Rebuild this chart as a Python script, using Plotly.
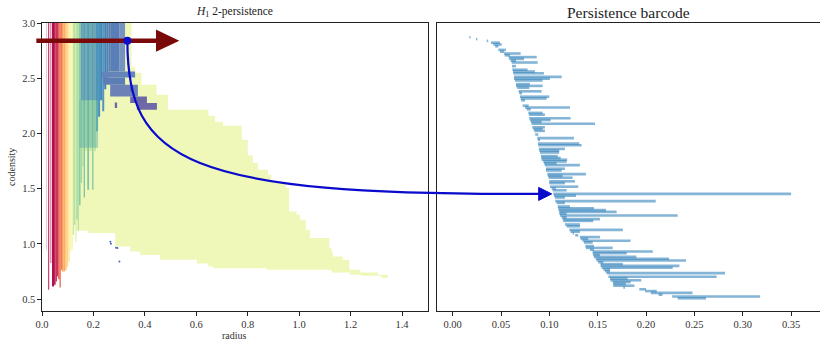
import plotly.graph_objects as go

# ---------------- Left panel: H1 2-persistence ----------------
TOP = 3.0
# vertical strips (radius interval, lower codensity, colour); top is TOP
strip_x0 = [0.016, 0.024, 0.033, 0.039, 0.047, 0.053, 0.058, 0.063, 0.068, 0.073, 0.078, 0.084,
            0.090, 0.096, 0.102, 0.108, 0.114, 0.120, 0.125, 0.130, 0.134, 0.139, 0.144, 0.150,
            0.156, 0.162, 0.167, 0.176, 0.183, 0.195, 0.200, 0.210, 0.218, 0.226, 0.234, 0.242,
            0.250, 0.258]
strip_x1 = [0.019, 0.028, 0.036, 0.047, 0.053, 0.058, 0.063, 0.068, 0.073, 0.078, 0.084, 0.090,
            0.096, 0.102, 0.108, 0.114, 0.120, 0.125, 0.130, 0.134, 0.139, 0.144, 0.150, 0.156,
            0.162, 0.167, 0.176, 0.183, 0.195, 0.200, 0.210, 0.218, 0.226, 0.234, 0.242, 0.250,
            0.258, 0.265]
strip_bottom = [0.946, 0.584, 0.826, 0.614, 0.630, 0.660, 0.705, 0.680, 0.605, 0.765, 0.750, 0.750,
                0.760, 0.795, 0.840, 0.930, 0.950, 1.080, 1.170, 1.020, 1.220, 1.120, 1.350, 1.550,
                1.700, 1.420, 1.840, 1.490, 1.840, 1.490, 1.840, 2.020, 2.150, 2.300, 2.200, 2.400,
                2.450, 2.560]
strip_color = ['#f3b4c6', '#c51d5b', '#cc3060', '#ae0f4c', '#b8154e', '#c4214f', '#d1354e', '#de4b4b',
               '#eb6346', '#f47b4a', '#f99656', '#fcad63', '#fdc275', '#fed688', '#fee89c', '#fef4ae',
               '#f2f9ae', '#c8e89f', '#a9dba3', '#d9f09f', '#96d2a4', '#bbe3a0', '#88caa6', '#a4d8a4',
               '#c3e59f', '#7dc4a6', '#d3ed9e', '#80c5a6', '#cdea9f', '#82c6a6', '#c4e49f', '#6cb2ad',
               '#4d92bf', '#3d87bd', '#5894c0', '#4283bb', '#4e80b8', '#5581b8']

# rectangular summands drawn over the strips
block_x0 = [0.146, 0.150, 0.265, 0.300, 0.233, 0.238, 0.265, 0.343, 0.369, 0.283, 0.342]
block_x1 = [0.218, 0.218, 0.300, 0.323, 0.362, 0.323, 0.373, 0.408, 0.447, 0.292, 0.355]
block_y0 = [1.87, 2.30, 2.56, 2.56, 2.507, 2.441, 2.335, 2.275, 2.215, 2.23, 2.38]
block_y1 = [2.30, 3.00, 3.00, 3.00, 2.56, 2.507, 2.441, 2.335, 2.275, 2.28, 2.42]
block_color = ['rgba(80,170,170,0.45)', 'rgba(60,135,190,0.65)', '#5a7fb8', '#7592c0', '#6585ba',
               '#5d7db6', '#6c82b7', '#6b68a8', '#6f69a8', '#6a6aab', '#6661a7']

# big summand: staircase boundaries
upper_r = [0.348, 0.361, 0.387, 0.445, 0.49, 0.647, 0.673, 0.704, 0.777, 0.80, 0.82, 0.84, 0.879,
           0.892, 0.948, 0.961, 0.990, 1.003, 1.026, 1.042, 1.117, 1.126, 1.131, 1.169, 1.195,
           1.236, 1.307, 1.344]
upper_c = [3.0, 2.604, 2.55, 2.441, 2.35, 2.215, 2.16, 2.106, 2.07, 1.943, 1.80, 1.732, 1.671, 1.626,
           1.565, 1.505, 1.293, 1.264, 1.218, 1.128, 1.053, 0.962, 0.931, 0.886, 0.856, 0.765,
           0.741, 0.72, 0.69]
lower_r = [1.344, 1.32, 1.243, 1.197, 1.126, 0.874, 0.667, 0.647, 0.602, 0.459, 0.382, 0.343,
           0.285, 0.181, 0.13]
lower_c = [0.69, 0.711, 0.72, 0.741, 0.765, 0.78, 0.795, 0.822, 0.856, 0.90, 0.931, 0.976, 1.098,
           1.119]

speck_r = [0.266, 0.268, 0.288, 0.293, 0.301]
speck_c = [1.02, 1.0, 0.965, 0.962, 0.84]

point_r, point_c = 0.332, 2.84
red_arrow_r0, red_arrow_r1 = -0.022, 0.525

# ---------------- Right panel: barcode ----------------
bar_rank = [0, 1, 2, 3, 4, 5, 7, 8, 9, 10, 11, 12, 13, 14, 16, 18, 19, 20, 22, 23, 24, 26, 27, 28,
            30, 31, 33, 34, 35, 38, 39, 40, 42, 43, 45, 46, 47, 48, 50, 51, 52, 54, 56, 57, 59, 60,
            62, 63, 64, 66, 67, 68, 69, 70, 71, 73, 74, 76, 77, 78, 80, 81, 83, 84, 85, 87, 88, 89,
            91, 92, 94, 95, 96, 97, 98, 99, 100, 101, 102, 104, 105, 107, 108, 109, 110, 111, 112,
            113, 114, 116, 117, 118, 119, 120, 121, 122, 123, 124, 125, 126, 127, 128, 129, 130,
            131, 133, 134, 135, 136, 137, 138, 139, 140, 141, 142, 143, 144, 145]
bar_birth = [0.0172, 0.0241, 0.0352, 0.0396, 0.042, 0.044, 0.0472, 0.049, 0.0531, 0.0538, 0.0579,
             0.0586, 0.060, 0.061, 0.0613, 0.0617, 0.0624, 0.0627, 0.0634, 0.0634, 0.0644, 0.0655,
             0.0655, 0.0668, 0.0682, 0.0689, 0.0696, 0.0703, 0.0709, 0.0724, 0.0748, 0.0765,
             0.0782, 0.0789, 0.0792, 0.0799, 0.081, 0.0817, 0.0823, 0.0834, 0.0844, 0.0854,
             0.0875, 0.0882, 0.0882, 0.0885, 0.0892, 0.0896, 0.0903, 0.0913, 0.0916, 0.092,
             0.0937, 0.0944, 0.0954, 0.0965, 0.0965, 0.0979, 0.0986, 0.0993, 0.0999, 0.0999,
             0.1006, 0.1024, 0.1034, 0.1041, 0.1048, 0.1058, 0.1061, 0.1075, 0.1086, 0.1092,
             0.1096, 0.1103, 0.1103, 0.111, 0.1127, 0.1137, 0.1144, 0.1161, 0.1179, 0.1206,
             0.122, 0.1241, 0.1268, 0.1316, 0.1323, 0.1344, 0.1358, 0.1372, 0.1378, 0.142,
             0.1448, 0.1448, 0.1454, 0.1461, 0.148, 0.1489, 0.1506, 0.153, 0.153, 0.1541, 0.1558,
             0.1575, 0.1593, 0.161, 0.1627, 0.163, 0.1655, 0.1661, 0.1661, 0.1765, 0.193, 0.199,
             0.205, 0.213, 0.227, 0.2327]
bar_death = [0.0185, 0.0255, 0.0368, 0.0489, 0.0507, 0.0472, 0.0551, 0.0531, 0.0703, 0.0593, 0.0869,
             0.0737, 0.0655, 0.0879, 0.0655, 0.0775, 0.0851, 0.0944, 0.1127, 0.1006, 0.093, 0.0799,
             0.093, 0.0792, 0.092, 0.0717, 0.0999, 0.0972, 0.0748, 0.0786, 0.1213, 0.0807, 0.093,
             0.0954, 0.122, 0.1013, 0.092, 0.1472, 0.0954, 0.093, 0.0954, 0.0885, 0.1254, 0.0903,
             0.1309, 0.1334, 0.1161, 0.1102, 0.1102, 0.1086, 0.1117, 0.1185, 0.1179, 0.1075,
             0.1316, 0.1161, 0.1127, 0.1378, 0.1137, 0.1241, 0.1265, 0.1161, 0.1299, 0.1068,
             0.1179, 0.35, 0.1275, 0.1161, 0.21, 0.1161, 0.1213, 0.1461, 0.1585, 0.1696, 0.1179,
             0.2327, 0.1179, 0.1523, 0.1454, 0.1316, 0.1316, 0.176, 0.1316, 0.1254, 0.1299,
             0.1523, 0.1402, 0.184, 0.1448, 0.1461, 0.1655, 0.1461, 0.207, 0.180, 0.1523, 0.19,
             0.2237, 0.2413, 0.1558, 0.176, 0.2345, 0.2275, 0.1627, 0.1627, 0.2816, 0.273, 0.181,
             0.195, 0.184, 0.179, 0.188, 0.1782, 0.2, 0.211, 0.248, 0.217, 0.318, 0.262]
target_birth, target_rank = 0.1024, 87

# ---------------- geometry ----------------
W, H = 820, 342
ML, MR, MT, MB = 42, 0, 23, 31
PW, PH = W - ML - MR, H - MT - MB
LDOM = [0.0, 0.4958]
RDOM = [0.5077, 1.0]
LXR = [0.0, 1.5]
LYR = [0.392, 3.0]
RXR = [-0.0162, 0.3799]
RYR = [152.06, -7.94]


def lpx(x):
    return ML + (LDOM[0] + (x - LXR[0]) / (LXR[1] - LXR[0]) * (LDOM[1] - LDOM[0])) * PW


def lpy(y):
    return MT + (LYR[1] - y) / (LYR[1] - LYR[0]) * PH


def rpx(x):
    return ML + (RDOM[0] + (x - RXR[0]) / (RXR[1] - RXR[0]) * (RDOM[1] - RDOM[0])) * PW


def rpy(r):
    return MT + (r - RYR[1]) / (RYR[0] - RYR[1]) * PH


def paper(px, py):
    return (px - ML) / PW, (H - MB - py) / PH


fig = go.Figure()


def rect_trace(x0, x1, y0, y1, color):
    return go.Scatter(x=[x0, x1, x1, x0, x0], y=[y0, y0, y1, y1, y0], mode='lines',
                      fill='toself', fillcolor=color, line=dict(width=0),
                      hoverinfo='skip', showlegend=False, xaxis='x', yaxis='y')


# big yellow summand
yx, yy = [lower_r[-1]], [TOP]
for i in range(len(upper_r)):
    yx += [upper_r[i], upper_r[i]]
    yy += [upper_c[i], upper_c[i + 1]]
for i in range(len(lower_c)):
    yx += [lower_r[i], lower_r[i + 1]]
    yy += [lower_c[i], lower_c[i]]
yx.append(lower_r[-1]); yy.append(TOP)
fig.add_trace(go.Scatter(x=yx, y=yy, mode='lines', fill='toself', fillcolor='#eff7b9',
                         line=dict(width=0), hoverinfo='skip', showlegend=False,
                         xaxis='x', yaxis='y'))

for x0, x1, b, c in zip(strip_x0, strip_x1, strip_bottom, strip_color):
    fig.add_trace(rect_trace(x0, x1, b, TOP, c))
for x0, x1, y0, y1, c in zip(block_x0, block_x1, block_y0, block_y1, block_color):
    fig.add_trace(rect_trace(x0, x1, y0, y1, c))

fig.add_trace(go.Scatter(x=speck_r, y=speck_c, mode='markers',
                         marker=dict(size=2, color='#4a66c0'), hoverinfo='skip',
                         showlegend=False, xaxis='x', yaxis='y'))

# barcode
fig.add_trace(go.Bar(y=bar_rank, x=[d - b for b, d in zip(bar_birth, bar_death)], base=bar_birth,
                     orientation='h', width=1.45,
                     marker=dict(color='rgba(31,119,180,0.55)', line=dict(width=0)),
                     hoverinfo='skip', showlegend=False, xaxis='x2', yaxis='y2'))

# ---------------- arrows ----------------
shapes = []
# dark red arrow
ay = lpy(point_c)
sx0, tipx = lpx(red_arrow_r0), lpx(red_arrow_r1)
hb = tipx - 20
p0 = paper(sx0, ay); p1 = paper(hb + 2, ay)
shapes.append(dict(type='line', xref='paper', yref='paper', x0=p0[0], y0=p0[1], x1=p1[0], y1=p1[1],
                   line=dict(color='#7a0a0a', width=4.5), layer='above'))
a = paper(hb, ay - 9.5); b_ = paper(tipx, ay); c_ = paper(hb, ay + 9.5)
shapes.append(dict(type='path', xref='paper', yref='paper',
                   path=f'M{a[0]},{a[1]} L{b_[0]},{b_[1]} L{c_[0]},{c_[1]} Z',
                   fillcolor='#7a0a0a', line=dict(color='#7a0a0a', width=2), layer='above'))

# blue connecting curve
dx, dy = lpx(point_r), lpy(point_c)
tx, ty = rpx(target_birth), rpy(target_rank)
ex = tx - 13
P0 = paper(dx, dy)
P1 = paper(dx, dy + 120)
P2 = paper(ex - 355, ty + 2)
P3 = paper(ex + 1, ty)
shapes.append(dict(type='path', xref='paper', yref='paper',
                   path=f'M{P0[0]},{P0[1]} C{P1[0]},{P1[1]} {P2[0]},{P2[1]} {P3[0]},{P3[1]}',
                   line=dict(color='#0a0acd', width=2.2), layer='above'))
h1 = paper(ex, ty - 6.5); h2 = paper(tx, ty); h3 = paper(ex, ty + 6.5)
shapes.append(dict(type='path', xref='paper', yref='paper',
                   path=f'M{h1[0]},{h1[1]} L{h2[0]},{h2[1]} L{h3[0]},{h3[1]} Z',
                   fillcolor='#0a0acd', line=dict(color='#0a0acd', width=1), layer='above'))
# blue point
c0 = paper(dx - 4, dy + 4); c1 = paper(dx + 4, dy - 4)
shapes.append(dict(type='circle', xref='paper', yref='paper', x0=c0[0], y0=c0[1], x1=c1[0], y1=c1[1],
                   fillcolor='#0a0acd', line=dict(width=0), layer='above'))

FONT = 'Liberation Serif'
axis_common = dict(showline=True, linecolor='#222', linewidth=1.2, ticks='outside', ticklen=3.5,
                   tickwidth=1, tickcolor='#222', showgrid=False, zeroline=False,
                   tickfont=dict(family=FONT, size=10.5, color='#333'))

fig.update_layout(
    width=W, height=H, margin=dict(l=ML, r=MR, t=MT, b=MB, autoexpand=False),
    paper_bgcolor='white', plot_bgcolor='white', barmode='overlay', showlegend=False,
    xaxis=dict(domain=LDOM, range=LXR, tickvals=[0, 0.2, 0.4, 0.6, 0.8, 1.0, 1.2, 1.4],
               tickformat='.1f', mirror=True, anchor='y', **axis_common),
    yaxis=dict(domain=[0, 1], range=LYR, tickvals=[0.5, 1.0, 1.5, 2.0, 2.5, 3.0],
               tickformat='.1f', mirror=True, anchor='x', **axis_common),
    xaxis2=dict(domain=RDOM, range=RXR, tickvals=[0, 0.05, 0.1, 0.15, 0.2, 0.25, 0.3, 0.35],
                tickformat='.2f', mirror=True, anchor='y2', **axis_common),
    yaxis2=dict(domain=[0, 1], range=RYR, showline=True, linecolor='#222', linewidth=1.2,
                showticklabels=False, ticks='', showgrid=False, zeroline=False, anchor='x2'),
    shapes=shapes,
    annotations=[
        dict(text='<i>H</i><sub>1</sub> 2-persistence', x=(LDOM[0] + LDOM[1]) / 2, y=paper(0, 12)[1],
             xref='paper', yref='paper', showarrow=False, xanchor='center', yanchor='middle',
             font=dict(family=FONT, size=11.5, color='#222')),
        dict(text='Persistence barcode', x=(RDOM[0] + RDOM[1]) / 2, y=paper(0, 12)[1],
             xref='paper', yref='paper', showarrow=False, xanchor='center', yanchor='middle',
             font=dict(family=FONT, size=15.5, color='#222')),
        dict(text='codensity', x=paper(11, 0)[0], y=0.5, xref='paper', yref='paper',
             showarrow=False, textangle=-90, xanchor='center', yanchor='middle',
             font=dict(family=FONT, size=10, color='#333')),
        dict(text='radius', x=(LDOM[0] + LDOM[1]) / 2, y=paper(0, 335)[1], xref='paper',
             yref='paper', showarrow=False, xanchor='center', yanchor='middle',
             font=dict(family=FONT, size=10, color='#333')),
    ],
)

fig.write_html('out.html', config={'displayModeBar': False},
               post_script="document.body.style.margin='0';document.body.style.overflow='hidden';")
